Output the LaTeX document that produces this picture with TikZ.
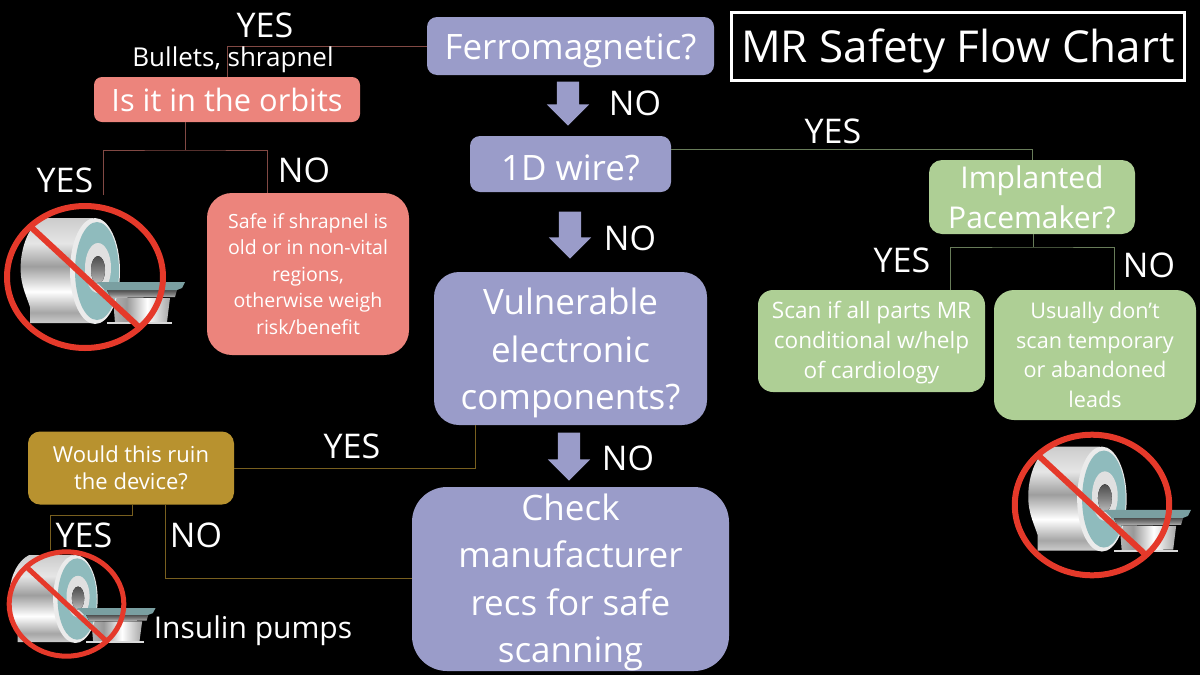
\documentclass[tikz,border=0pt]{standalone}
\usepackage{fontspec}
\setmainfont{Open Sans}
\usetikzlibrary{shapes, shapes.arrows}
\definecolor{lilac}{HTML}{9A9CC9}
\definecolor{salmon}{HTML}{EC847C}
\definecolor{sage}{HTML}{AECF95}
\definecolor{ochre}{HTML}{B8922F}
\definecolor{teal}{HTML}{8FBBBD}
\definecolor{stopred}{HTML}{E5392A}
\pgfdeclareverticalshading{chrome}{100bp}{color(0bp)=(black!20); color(25bp)=(black!20); color(30bp)=(black!35); color(40bp)=(white); color(52bp)=(black!38); color(63bp)=(black!10); color(75bp)=(black!20); color(100bp)=(black!20)}
\pgfdeclareverticalshading{bore}{100bp}{color(0bp)=(black!25); color(25bp)=(black!25); color(50bp)=(black!50); color(75bp)=(black!70); color(100bp)=(black!70)}
\pgfdeclarehorizontalshading{plinth}{100bp}{color(0bp)=(black!30); color(25bp)=(black!30); color(37bp)=(black!40); color(55bp)=(white); color(75bp)=(black!35); color(100bp)=(black!35)}
\newcommand{\fsz}[2]{\fontsize{#1}{#2}\selectfont}
\newcommand{\drop}[1]{\rule{0pt}{#1}}
\newcommand{\scanner}[5]{%
\begin{scope}[shift={(#1)},xscale=#2,yscale=#3]
\fill[shading=chrome] (-42,-59)--(8,-59)--(8,46)--(-55,46)--(-55,30) .. controls (-60,15) and (-66,5) .. (-64,-17) .. controls (-62,-35) and (-55,-52) .. (-42,-59)--cycle;
\fill[shading=plinth] (28,21)--(85,21)--(82,45)--(30,46)--cycle;
\fill[black!15] (22,45) rectangle (87,47);
\fill[black!8] (10,-6) ellipse (25 and 53);
\fill[teal] (12,-6) ellipse (22 and 49);
\fill[black!12] (13,-9) ellipse (13 and 25);
\fill[shading=bore] (13,-7) ellipse (7 and 14);
\fill[shading=bore] (22,13)--(92,13)--(90,20)--(26,21)--cycle;
\fill[teal!85!black] (12,5)--(100,5)--(97,11)--(92,13)--(20,13)--cycle;
\end{scope}
\begin{scope}[shift={(#1)},scale=#4]
\draw[stopred,line width=#5] (0,0) ellipse (78 and 71);
\draw[stopred,line width=#5] (-53,-49)--(55,51);
\end{scope}}
\tikzset{
flowbox/.style={rounded corners=#1,inner sep=0pt,align=center,text=white},
lilacbox/.style={flowbox=#1,fill=lilac},
salmonbox/.style={flowbox=#1,fill=salmon},
sagebox/.style={flowbox=#1,fill=sage},
ochrebox/.style={flowbox=#1,fill=ochre},
tag/.style={text=white,inner sep=0pt,font=\fsz{34}{36}},
downarrow/.style={single arrow,fill=lilac,rotate=270,inner sep=0pt,text height=22pt,text depth=0pt,minimum width=42pt,minimum height=#1,single arrow head extend=10pt,single arrow head indent=0pt},
salmonline/.style={draw=salmon!55!black,line width=1pt},
sageline/.style={draw=sage!60!black,line width=1pt},
ochreline/.style={draw=ochre!65!black,line width=1pt}
}
\begin{document}
\begin{tikzpicture}[x=1pt,y=-1pt]
\useasboundingbox (0,0) rectangle (1200,675);
\fill[black] (0,0) rectangle (1200,675);

\node[draw=white,line width=3pt,minimum width=453pt,minimum height=68pt,inner sep=0pt,text=white,font=\fsz{44}{48}] (title) at (958,46.5) {\drop{42pt}MR Safety Flow Chart};

\node[lilacbox=10pt,minimum width=287pt,minimum height=58pt,font=\fsz{35}{38}] (ferro) at (570.5,46) {\drop{36pt}Ferromagnetic?};
\node[lilacbox=10pt,minimum width=201pt,minimum height=56pt,font=\fsz{35}{38}] (wire) at (570.5,164) {\drop{34pt}1D wire?};
\node[lilacbox=25pt,minimum width=273pt,minimum height=153pt,font=\fsz{35}{47.5}] (vuln) at (570.5,348.5) {\drop{36pt}Vulnerable\\electronic\\components?};
\node[lilacbox=35pt,minimum width=317pt,minimum height=184pt,font=\fsz{35}{47.5}] (check) at (570.5,579) {\drop{33pt}Check\\manufacturer\\recs for safe\\scanning};

\node[downarrow=44pt] (arrowa) at (568,98) {};
\node[downarrow=47pt] (arrowb) at (570,229.5) {};
\node[downarrow=48pt] (arrowc) at (569,451) {};

\node[salmonbox=8pt,minimum width=266pt,minimum height=45pt,font=\fsz{30.8}{34}] (orbits) at (227,99.5) {Is it in the orbits};
\node[salmonbox=25pt,minimum width=202pt,minimum height=162pt,font=\fsz{19.5}{26.5}] (safe) at (308,274) {Safe if shrapnel is\\old or in non-vital\\regions,\\otherwise weigh\\risk/benefit};
\node[ochrebox=12pt,minimum width=206pt,minimum height=73pt,font=\fsz{22}{27}] (ruin) at (131,468) {Would this ruin\\the device?};
\node[sagebox=13pt,minimum width=206pt,minimum height=74pt,font=\fsz{30}{40}] (pacer) at (1032,197) {Implanted\\Pacemaker?};
\node[sagebox=15pt,minimum width=227pt,minimum height=102pt,font=\fsz{22.6}{30}] (scan) at (871.5,341) {\drop{21pt}Scan if all parts MR\\conditional w/help\\of cardiology};
\node[sagebox=20pt,minimum width=202pt,minimum height=130pt,font=\fsz{21.6}{29.5}] (leads) at (1095,355) {Usually don’t\\scan temporary\\or abandoned\\leads};

\scanner{85,277}{1}{1}{1}{6pt}
\scanner{1092,505}{.99}{.99}{.99}{6pt}
\scanner{66.5,604}{.89}{.83}{.735}{5pt}

\coordinate (orbitsfork) at (185,150);
\coordinate (orbitsyes) at (103,195);
\coordinate (orbitsno) at (267,193);
\coordinate (pacerfork) at (1033,247);
\coordinate (paceryes) at (950,290);
\coordinate (pacerno) at (1114,290);
\coordinate (ruinfork) at (132,515);
\coordinate (ruinyes) at (50,550);
\coordinate (vulnout) at (475,425);
\coordinate (ruinno) at (165,505);
\coordinate (checkin) at (412,578);

\draw[salmonline] (ferro.west) -| (orbits.north);
\draw[salmonline] (orbits.south -| orbitsfork) -- (orbitsfork);
\draw[salmonline] (orbitsyes) |- (orbitsfork) -| (orbitsno);
\draw[sageline] (wire.east |- 0,149) -| (pacer.north);
\draw[sageline] (pacer.south -| pacerfork) -- (pacerfork);
\draw[sageline] (paceryes) |- (pacerfork) -| (pacerno);
\draw[ochreline] (vulnout) |- (ruin.east);
\draw[ochreline] (ruin.south -| ruinfork) |- (ruinfork) -| (ruinyes);
\draw[ochreline] (ruinno) |- (checkin);

\node[tag] (t1) at (265,25) {YES};
\node[text=white,inner sep=0pt,font=\fsz{26}{28}] (t2) at (233,60) {Bullets, shrapnel};
\node[tag] (t3) at (635,103) {NO};
\node[tag] (t4) at (630,238) {NO};
\node[tag] (t5) at (628,458) {NO};
\node[tag] (t6) at (833,131) {YES};
\node[tag] (t7) at (902,260) {YES};
\node[tag] (t8) at (1149,265) {NO};
\node[tag] (t9) at (65,180) {YES};
\node[tag] (t10) at (304,170) {NO};
\node[tag] (t11) at (352,446) {YES};
\node[tag] (t12) at (84,535) {YES};
\node[tag] (t13) at (196,535) {NO};
\node[text=white,inner sep=0pt,font=\fsz{30}{32}] (t14) at (253,631) {Insulin pumps};

\end{tikzpicture}
\end{document}
